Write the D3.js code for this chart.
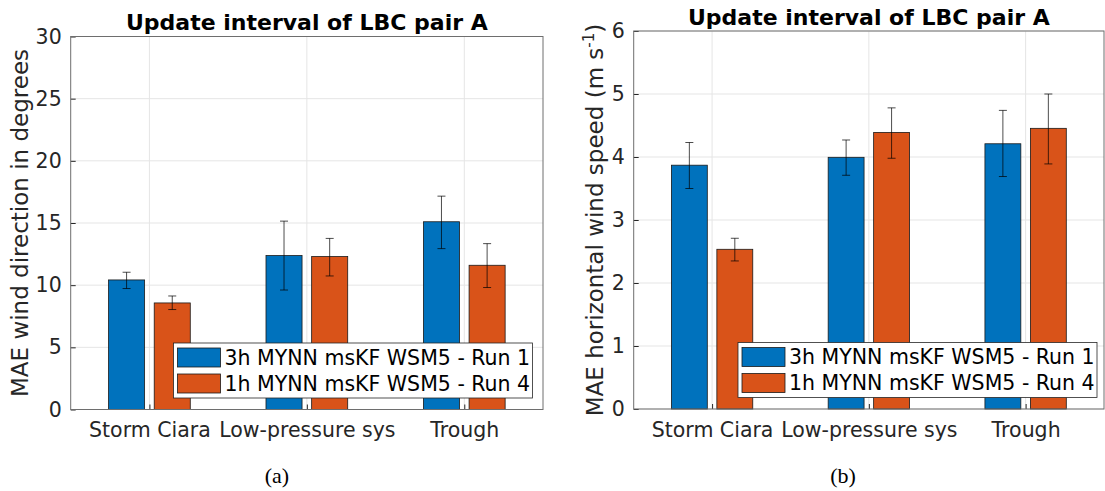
<!DOCTYPE html>
<html>
<head>
<meta charset="utf-8">
<script src="https://cdn.jsdelivr.net/npm/d3@7"></script>
<style>
  body { margin: 0; background: #fff; }
  svg { display: block; }
</style>
</head>
<body>
<div id="chart"></div>
<script>
// categories and series shared by both panels
var categories = ["Storm Ciara", "Low-pressure sys", "Trough"];
var seriesNames = ["3h MYNN msKF WSM5 - Run 1", "1h MYNN msKF WSM5 - Run 4"];
var seriesColors = ["#0072BD", "#D95319"];

// panel (a): wind direction MAE, degrees
var dirRun1 = [10.42, 12.38, 15.10];
var dirRun4 = [8.57, 12.30, 11.60];
var dirRun1Lo = [9.73, 9.61, 12.94];
var dirRun1Hi = [11.04, 15.15, 17.16];
var dirRun4Lo = [8.04, 10.74, 9.81];
var dirRun4Hi = [9.13, 13.76, 13.34];
var dirTicks = [0, 5, 10, 15, 20, 25, 30];

// panel (b): horizontal wind speed MAE, m/s
var spdRun1 = [3.87, 3.995, 4.21];
var spdRun4 = [2.535, 4.39, 4.455];
var spdRun1Lo = [3.50, 3.71, 3.69];
var spdRun1Hi = [4.23, 4.27, 4.74];
var spdRun4Lo = [2.35, 3.98, 3.89];
var spdRun4Hi = [2.71, 4.78, 5.00];
var spdTicks = [0, 1, 2, 3, 4, 5, 6];

var svg = d3.select("#chart")
  .append("svg")
  .attr("width", 1105)
  .attr("height", 491);

var txtColor = "#262626";
var font = "DejaVu Sans, sans-serif";

function drawPanel(p) {
  var x = d3.scaleLinear().domain([0.5, 3.5]).range([p.left, p.right]);
  var y = d3.scaleLinear().domain([p.ticks[0], p.ticks[p.ticks.length - 1]]).range([p.bottom, p.top]);
  var g = svg.append("g");

  // grid
  g.selectAll(".hgrid")
    .data(p.ticks)
    .enter().append("line")
    .attr("x1", p.left).attr("x2", p.right)
    .attr("y1", function(d) { return y(d); })
    .attr("y2", function(d) { return y(d); })
    .style("stroke", "#e5e5e5")
    .style("stroke-width", 1);
  g.selectAll(".vgrid")
    .data(categories)
    .enter().append("line")
    .attr("x1", function(d, i) { return x(i + 1); })
    .attr("x2", function(d, i) { return x(i + 1); })
    .attr("y1", p.top).attr("y2", p.bottom)
    .style("stroke", "#e5e5e5")
    .style("stroke-width", 1);

  // bars, two series per category
  var offset = 0.145, bw = 0.229;
  var series = [
    { vals: p.s1, lo: p.s1Lo, hi: p.s1Hi, dx: -offset, color: seriesColors[0] },
    { vals: p.s2, lo: p.s2Lo, hi: p.s2Hi, dx: offset, color: seriesColors[1] }
  ];
  series.forEach(function(s) {
    g.selectAll(null)
      .data(s.vals)
      .enter().append("rect")
      .attr("x", function(d, i) { return x(i + 1 + s.dx - bw / 2); })
      .attr("width", x(1 + bw) - x(1))
      .attr("y", function(d) { return y(d); })
      .attr("height", function(d) { return y(0) - y(d); })
      .style("fill", s.color)
      .style("stroke", "#1a1a1a")
      .style("stroke-width", 0.8);
  });

  // error bars
  series.forEach(function(s) {
    var eb = g.selectAll(null)
      .data(s.vals)
      .enter().append("g")
      .style("stroke", "#000")
      .style("stroke-opacity", 0.7)
      .style("stroke-width", 1);
    eb.append("line")
      .attr("x1", function(d, i) { return x(i + 1 + s.dx); })
      .attr("x2", function(d, i) { return x(i + 1 + s.dx); })
      .attr("y1", function(d, i) { return y(s.lo[i]); })
      .attr("y2", function(d, i) { return y(s.hi[i]); });
    [s.lo, s.hi].forEach(function(arr) {
      eb.append("line")
        .attr("x1", function(d, i) { return x(i + 1 + s.dx) - 4; })
        .attr("x2", function(d, i) { return x(i + 1 + s.dx) + 4; })
        .attr("y1", function(d, i) { return y(arr[i]); })
        .attr("y2", function(d, i) { return y(arr[i]); });
    });
  });

  // axes
  var yAxis = d3.axisLeft(y).tickValues(p.ticks).tickFormat(d3.format("d"))
    .tickSize(-5).tickPadding(9);
  var ya = g.append("g").attr("transform", "translate(" + p.left + ",0)").call(yAxis);
  var xAxis = d3.axisBottom(x).tickValues([1, 2, 3])
    .tickFormat(function(d) { return categories[d - 1]; })
    .tickSize(-5).tickPadding(13);
  var xa = g.append("g").attr("transform", "translate(0," + p.bottom + ")").call(xAxis);
  [ya, xa].forEach(function(a) {
    a.select(".domain").remove();
    a.selectAll(".tick line").style("stroke", txtColor);
    a.selectAll("text")
      .style("font-family", font)
      .style("font-size", "20.5px")
      .style("fill", txtColor);
  });

  // box
  g.append("rect")
    .attr("x", p.left).attr("y", p.top)
    .attr("width", p.right - p.left).attr("height", p.bottom - p.top)
    .style("fill", "none")
    .style("stroke", "#6e6e6e")
    .style("stroke-width", 1);

  // title
  g.append("text")
    .attr("x", (p.left + p.right) / 2)
    .attr("y", p.top - 6.5)
    .attr("text-anchor", "middle")
    .style("font-family", font)
    .style("font-weight", "bold")
    .style("font-size", "22px")
    .style("fill", "#000")
    .text("Update interval of LBC pair A");

  // y label
  var yl = g.append("text")
    .attr("transform", "translate(" + p.ylabelX + "," + ((p.top + p.bottom) / 2) + ") rotate(-90)")
    .attr("text-anchor", "middle")
    .style("font-family", font)
    .style("font-size", "23px")
    .style("fill", txtColor);
  yl.append("tspan").text(p.ylabel);
  if (p.ysup) {
    yl.append("tspan").attr("dy", -9).style("font-size", "15px").text(p.ysup);
    yl.append("tspan").attr("dy", 9).text(p.yend);
  }

  // legend
  var lg = g.append("g").attr("transform", "translate(" + p.legX + "," + p.legY + ")");
  lg.append("rect")
    .attr("width", 359).attr("height", 55)
    .style("fill", "#fff")
    .style("stroke", "#262626")
    .style("stroke-width", 0.8);
  seriesNames.forEach(function(name, i) {
    lg.append("rect")
      .attr("x", 4).attr("y", 5 + i * 26)
      .attr("width", 43).attr("height", 19)
      .style("fill", seriesColors[i])
      .style("stroke", "#1a1a1a")
      .style("stroke-width", 0.8);
    lg.append("text")
      .attr("x", 51).attr("y", 21.5 + i * 26)
      .style("font-family", font)
      .style("font-size", "20.5px")
      .style("fill", "#000")
      .text(name);
  });

  // caption
  g.append("text")
    .attr("x", p.capX).attr("y", 483)
    .attr("text-anchor", "middle")
    .style("font-family", "Liberation Serif, serif")
    .style("font-size", "22px")
    .style("fill", "#000")
    .text(p.caption);
}

drawPanel({
  left: 70.7, right: 543, top: 36.5, bottom: 409.5,
  ticks: dirTicks,
  s1: dirRun1, s2: dirRun4,
  s1Lo: dirRun1Lo, s1Hi: dirRun1Hi, s2Lo: dirRun4Lo, s2Hi: dirRun4Hi,
  ylabel: "MAE wind direction in degrees", ylabelX: 28,
  legX: 173.5, legY: 343,
  caption: "(a)", capX: 277
});

drawPanel({
  left: 633.7, right: 1104, top: 31, bottom: 409,
  ticks: spdTicks,
  s1: spdRun1, s2: spdRun4,
  s1Lo: spdRun1Lo, s1Hi: spdRun1Hi, s2Lo: spdRun4Lo, s2Hi: spdRun4Hi,
  ylabel: "MAE horizontal wind speed (m s", ysup: "-1", yend: ")", ylabelX: 603,
  legX: 738, legY: 342.5,
  caption: "(b)", capX: 843
});
</script>
</body>
</html>
